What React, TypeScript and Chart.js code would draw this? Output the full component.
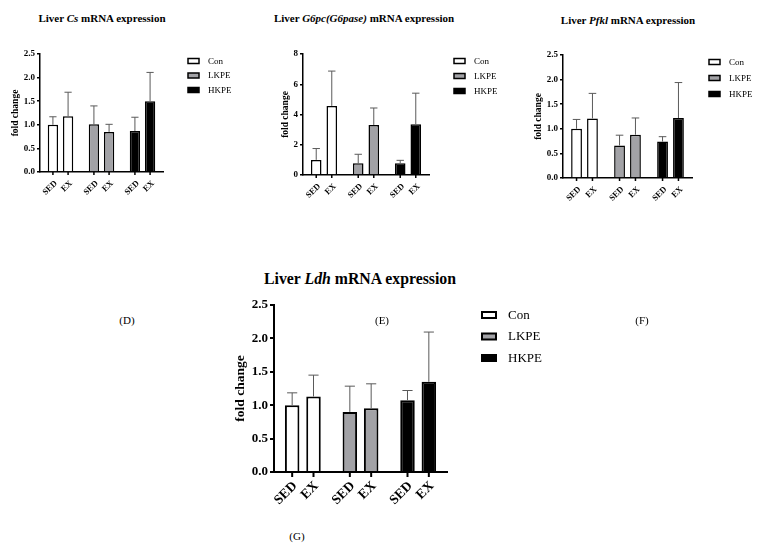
import React, { useEffect, useRef } from 'react';
import { Chart, registerables } from 'chart.js';

Chart.register(...registerables);

const SERIF = "'Liberation Serif', 'Times New Roman', serif";

// groups / phases shared by every panel
const groups = ['Con', 'LKPE', 'HKPE'];
const phases = ['SED', 'EX'];
const groupFill = ['#ffffff', '#a2a2a6', '#000000'];

// (D) Liver Cs
const csSed = [1.0, 1.01, 0.87];
const csEx = [1.18, 0.85, 1.5];
const csSedSd = [0.17, 0.39, 0.29];
const csExSd = [0.51, 0.16, 0.61];
const csTicks = [0, 0.5, 1.0, 1.5, 2.0, 2.5];

// (E) Liver G6pc(G6pase)
const g6Sed = [1.0, 0.77, 0.77];
const g6Ex = [4.57, 3.31, 3.36];
const g6SedSd = [0.75, 0.6, 0.2];
const g6ExSd = [2.3, 1.12, 2.05];
const g6Ticks = [0, 2, 4, 6, 8];

// (F) Liver Pfkl
const pfSed = [1.0, 0.66, 0.74];
const pfEx = [1.21, 0.88, 1.22];
const pfSedSd = [0.19, 0.21, 0.1];
const pfExSd = [0.51, 0.34, 0.72];
const pfTicks = [0, 0.5, 1.0, 1.5, 2.0, 2.5];

// (G) Liver Ldh
const ldSed = [1.0, 0.9, 1.075];
const ldEx = [1.13, 0.955, 1.35];
const ldSedSd = [0.185, 0.385, 0.145];
const ldExSd = [0.32, 0.365, 0.745];
const ldTicks = [0, 0.5, 1.0, 1.5, 2.0, 2.5];

// upward-only SD whiskers
const errorBars = {
  id: 'errorBars',
  afterDatasetsDraw(chart: any, _args: any, o: any) {
    const { ctx } = chart;
    const y = chart.scales.y;
    ctx.save();
    ctx.strokeStyle = o.color;
    ctx.lineWidth = o.width;
    chart.data.datasets.forEach((ds: any, i: number) => {
      chart.getDatasetMeta(i).data.forEach((bar: any, j: number) => {
        const top = y.getPixelForValue(ds.data[j] + o.sd[i][j]);
        const half = (bar.width * o.cap) / 2;
        ctx.beginPath();
        ctx.moveTo(bar.x, bar.y);
        ctx.lineTo(bar.x, top);
        ctx.moveTo(bar.x - half, top);
        ctx.lineTo(bar.x + half, top);
        ctx.stroke();
      });
    });
    ctx.restore();
  },
};

// SED / EX tick marks and rotated labels under each bar
const phaseLabels = {
  id: 'phaseLabels',
  afterDraw(chart: any, _args: any, o: any) {
    const { ctx, chartArea } = chart;
    const base = chartArea.bottom;
    ctx.save();
    ctx.strokeStyle = '#000';
    ctx.lineWidth = o.lw;
    ctx.fillStyle = '#000';
    ctx.font = `bold ${o.font}px ${SERIF}`;
    chart.data.datasets.forEach((_ds: any, i: number) => {
      chart.getDatasetMeta(i).data.forEach((bar: any) => {
        ctx.beginPath();
        ctx.moveTo(bar.x, base);
        ctx.lineTo(bar.x, base + o.tick);
        ctx.stroke();
        ctx.save();
        ctx.translate(bar.x + o.dx, base + o.dy);
        ctx.rotate(-Math.PI / 4);
        ctx.textAlign = 'right';
        ctx.textBaseline = 'middle';
        ctx.fillText(phases[i], 0, 0);
        ctx.restore();
      });
    });
    ctx.restore();
  },
};

const sideLegend = {
  id: 'sideLegend',
  afterDraw(chart: any, _args: any, o: any) {
    const { ctx, chartArea } = chart;
    ctx.save();
    ctx.font = `${o.font}px ${SERIF}`;
    ctx.textBaseline = 'middle';
    groups.forEach((g, i) => {
      const x = chartArea.right + o.dx;
      const y = chartArea.top + o.dy + i * o.gap;
      ctx.fillStyle = groupFill[i];
      ctx.fillRect(x, y - o.bh / 2, o.bw, o.bh);
      ctx.strokeStyle = '#000';
      ctx.lineWidth = o.lw;
      ctx.strokeRect(x, y - o.bh / 2, o.bw, o.bh);
      ctx.fillStyle = '#000';
      ctx.fillText(g, x + o.bw + o.tx, y + 0.5);
    });
    ctx.restore();
  },
};

type Rect = { left: number; top: number; width: number; height: number };
type Area = { left: number; top: number; right: number; bottom: number };
type Look = {
  tickFont: number;
  titleFont: number;
  xFont: number;
  legendFont: number;
  legend: { dx: number; dy: number; gap: number; bw: number; bh: number; tx: number };
  barBorder: number;
  axisWidth: number;
  tickLen: number;
  xTick: number;
  xdx: number;
  xdy: number;
};

const small: Look = {
  tickFont: 9,
  titleFont: 9.5,
  xFont: 8.5,
  legendFont: 9,
  legend: { dx: 25, dy: 7, gap: 14.5, bw: 11, bh: 5, tx: 9 },
  barBorder: 1.5,
  axisWidth: 1.5,
  tickLen: 3,
  xTick: 3,
  xdx: 3,
  xdy: 10,
};

const big: Look = {
  tickFont: 13,
  titleFont: 13.5,
  xFont: 13.5,
  legendFont: 13,
  legend: { dx: 35, dy: 10, gap: 21.5, bw: 14, bh: 6, tx: 12 },
  barBorder: 2,
  axisWidth: 2,
  tickLen: 4,
  xTick: 5,
  xdx: 3,
  xdy: 12,
};

type PanelProps = {
  box: Rect;
  area: Area;
  yw: number;
  xh: number;
  sed: number[];
  ex: number[];
  sedSd: number[];
  exSd: number[];
  ticks: number[];
  decimals: number;
  look: Look;
  legendDx?: number;
  legendGap?: number;
};

const Panel = ({ box, area, yw, xh, sed, ex, sedSd, exSd, ticks, decimals, look, legendDx, legendGap }: PanelProps) => {
  const chartRef = useRef<HTMLCanvasElement>(null);
  const chartInstanceRef = useRef<Chart | null>(null);

  useEffect(() => {
    const ctx = chartRef.current?.getContext('2d');
    if (chartInstanceRef.current) chartInstanceRef.current.destroy();
    if (!ctx) return;

    const padding = {
      left: area.left - box.left - yw,
      top: area.top - box.top,
      right: box.left + box.width - area.right,
      bottom: box.top + box.height - area.bottom - xh,
    };

    chartInstanceRef.current = new Chart(ctx, {
      type: 'bar',
      data: {
        labels: groups,
        datasets: [
          { label: phases[0], data: sed },
          { label: phases[1], data: ex },
        ].map((d) => ({
          ...d,
          backgroundColor: groupFill,
          borderColor: '#000',
          borderWidth: look.barBorder,
          barPercentage: 0.68,
          categoryPercentage: 0.74,
        })),
      },
      options: {
        responsive: true,
        maintainAspectRatio: false,
        animation: false,
        layout: { padding },
        plugins: {
          legend: { display: false },
          tooltip: { enabled: false },
          errorBars: { sd: [sedSd, exSd], color: '#5a5a5a', width: 1, cap: 0.7 },
          phaseLabels: { font: look.xFont, tick: look.xTick, lw: look.axisWidth, dx: look.xdx, dy: look.xdy },
          sideLegend: {
            ...look.legend,
            dx: legendDx ?? look.legend.dx,
            gap: legendGap ?? look.legend.gap,
            font: look.legendFont,
            lw: look.barBorder,
          },
        } as any,
        scales: {
          x: {
            grid: { display: false, drawTicks: false },
            border: { display: true, color: '#000', width: look.axisWidth },
            ticks: { display: false },
            afterFit: (axis: any) => {
              axis.height = xh;
            },
          },
          y: {
            min: ticks[0],
            max: ticks[ticks.length - 1],
            afterBuildTicks: (axis: any) => {
              axis.ticks = ticks.map((v) => ({ value: v }));
            },
            afterFit: (axis: any) => {
              axis.width = yw;
            },
            grid: {
              drawOnChartArea: false,
              drawTicks: true,
              tickLength: look.tickLen,
              color: '#000',
              lineWidth: look.axisWidth,
            },
            border: { display: true, color: '#000', width: look.axisWidth },
            ticks: {
              color: '#000',
              padding: 2,
              font: { family: SERIF, size: look.tickFont, weight: 'bold' },
              callback: (v: any) => Number(v).toFixed(decimals),
            },
            title: {
              display: true,
              text: 'fold change',
              color: '#000',
              padding: { top: 3, bottom: 0 },
              font: { family: SERIF, size: look.titleFont, weight: 'bold' },
            },
          },
        },
      },
      plugins: [errorBars, phaseLabels, sideLegend],
    });

    return () => {
      if (chartInstanceRef.current) chartInstanceRef.current.destroy();
    };
  }, []);

  return (
    <div style={{ position: 'absolute', left: box.left, top: box.top, width: box.width, height: box.height }}>
      <canvas ref={chartRef} />
    </div>
  );
};

const Title = ({ x, y, size, children }: { x: number; y: number; size: number; children: React.ReactNode }) => (
  <div
    style={{
      position: 'absolute',
      left: x,
      top: y,
      transform: 'translate(-50%, -50%)',
      whiteSpace: 'nowrap',
      fontFamily: SERIF,
      fontWeight: 'bold',
      fontSize: size,
      color: '#000',
    }}
  >
    {children}
  </div>
);

const Caption = ({ x, y, text }: { x: number; y: number; text: string }) => (
  <div
    style={{
      position: 'absolute',
      left: x,
      top: y,
      transform: 'translate(-50%, -50%)',
      fontFamily: SERIF,
      fontSize: 11,
      color: '#000',
    }}
  >
    {text}
  </div>
);

export default function App() {
  return (
    <div style={{ position: 'absolute', left: 0, top: 0, width: 770, height: 556, background: '#fff', overflow: 'hidden' }}>
      <Title x={102} y={18} size={11}>
        Liver <i>Cs</i> mRNA expression
      </Title>
      <Title x={364} y={18} size={11}>
        Liver <i>G6pc(G6pase)</i> mRNA expression
      </Title>
      <Title x={628} y={20} size={11}>
        Liver <i>Pfkl</i> mRNA expression
      </Title>
      <Title x={360} y={279} size={15.8}>
        Liver <i>Ldh</i> mRNA expression
      </Title>

      <Panel
        box={{ left: 0, top: 30, width: 255, height: 200 }}
        area={{ left: 40, top: 54, right: 163, bottom: 172 }}
        yw={33}
        xh={40}
        sed={csSed}
        ex={csEx}
        sedSd={csSedSd}
        exSd={csExSd}
        ticks={csTicks}
        decimals={1}
        look={small}
      />
      <Panel
        box={{ left: 255, top: 30, width: 255, height: 200 }}
        area={{ left: 303, top: 54, right: 429, bottom: 175 }}
        yw={26}
        xh={40}
        sed={g6Sed}
        ex={g6Ex}
        sedSd={g6SedSd}
        exSd={g6ExSd}
        ticks={g6Ticks}
        decimals={0}
        look={small}
        legendDx={25}
        legendGap={15}
      />
      <Panel
        box={{ left: 510, top: 30, width: 260, height: 200 }}
        area={{ left: 563, top: 55, right: 692, bottom: 178 }}
        yw={33}
        xh={40}
        sed={pfSed}
        ex={pfEx}
        sedSd={pfSedSd}
        exSd={pfExSd}
        ticks={pfTicks}
        decimals={1}
        look={small}
        legendDx={17}
        legendGap={16}
      />
      <Panel
        box={{ left: 200, top: 285, width: 370, height: 240 }}
        area={{ left: 274, top: 305, right: 447, bottom: 472 }}
        yw={45}
        xh={50}
        sed={ldSed}
        ex={ldEx}
        sedSd={ldSedSd}
        exSd={ldExSd}
        ticks={ldTicks}
        decimals={1}
        look={big}
      />

      <Caption x={127} y={320} text="(D)" />
      <Caption x={382} y={320} text="(E)" />
      <Caption x={642} y={320} text="(F)" />
      <Caption x={297} y={536} text="(G)" />
    </div>
  );
}
